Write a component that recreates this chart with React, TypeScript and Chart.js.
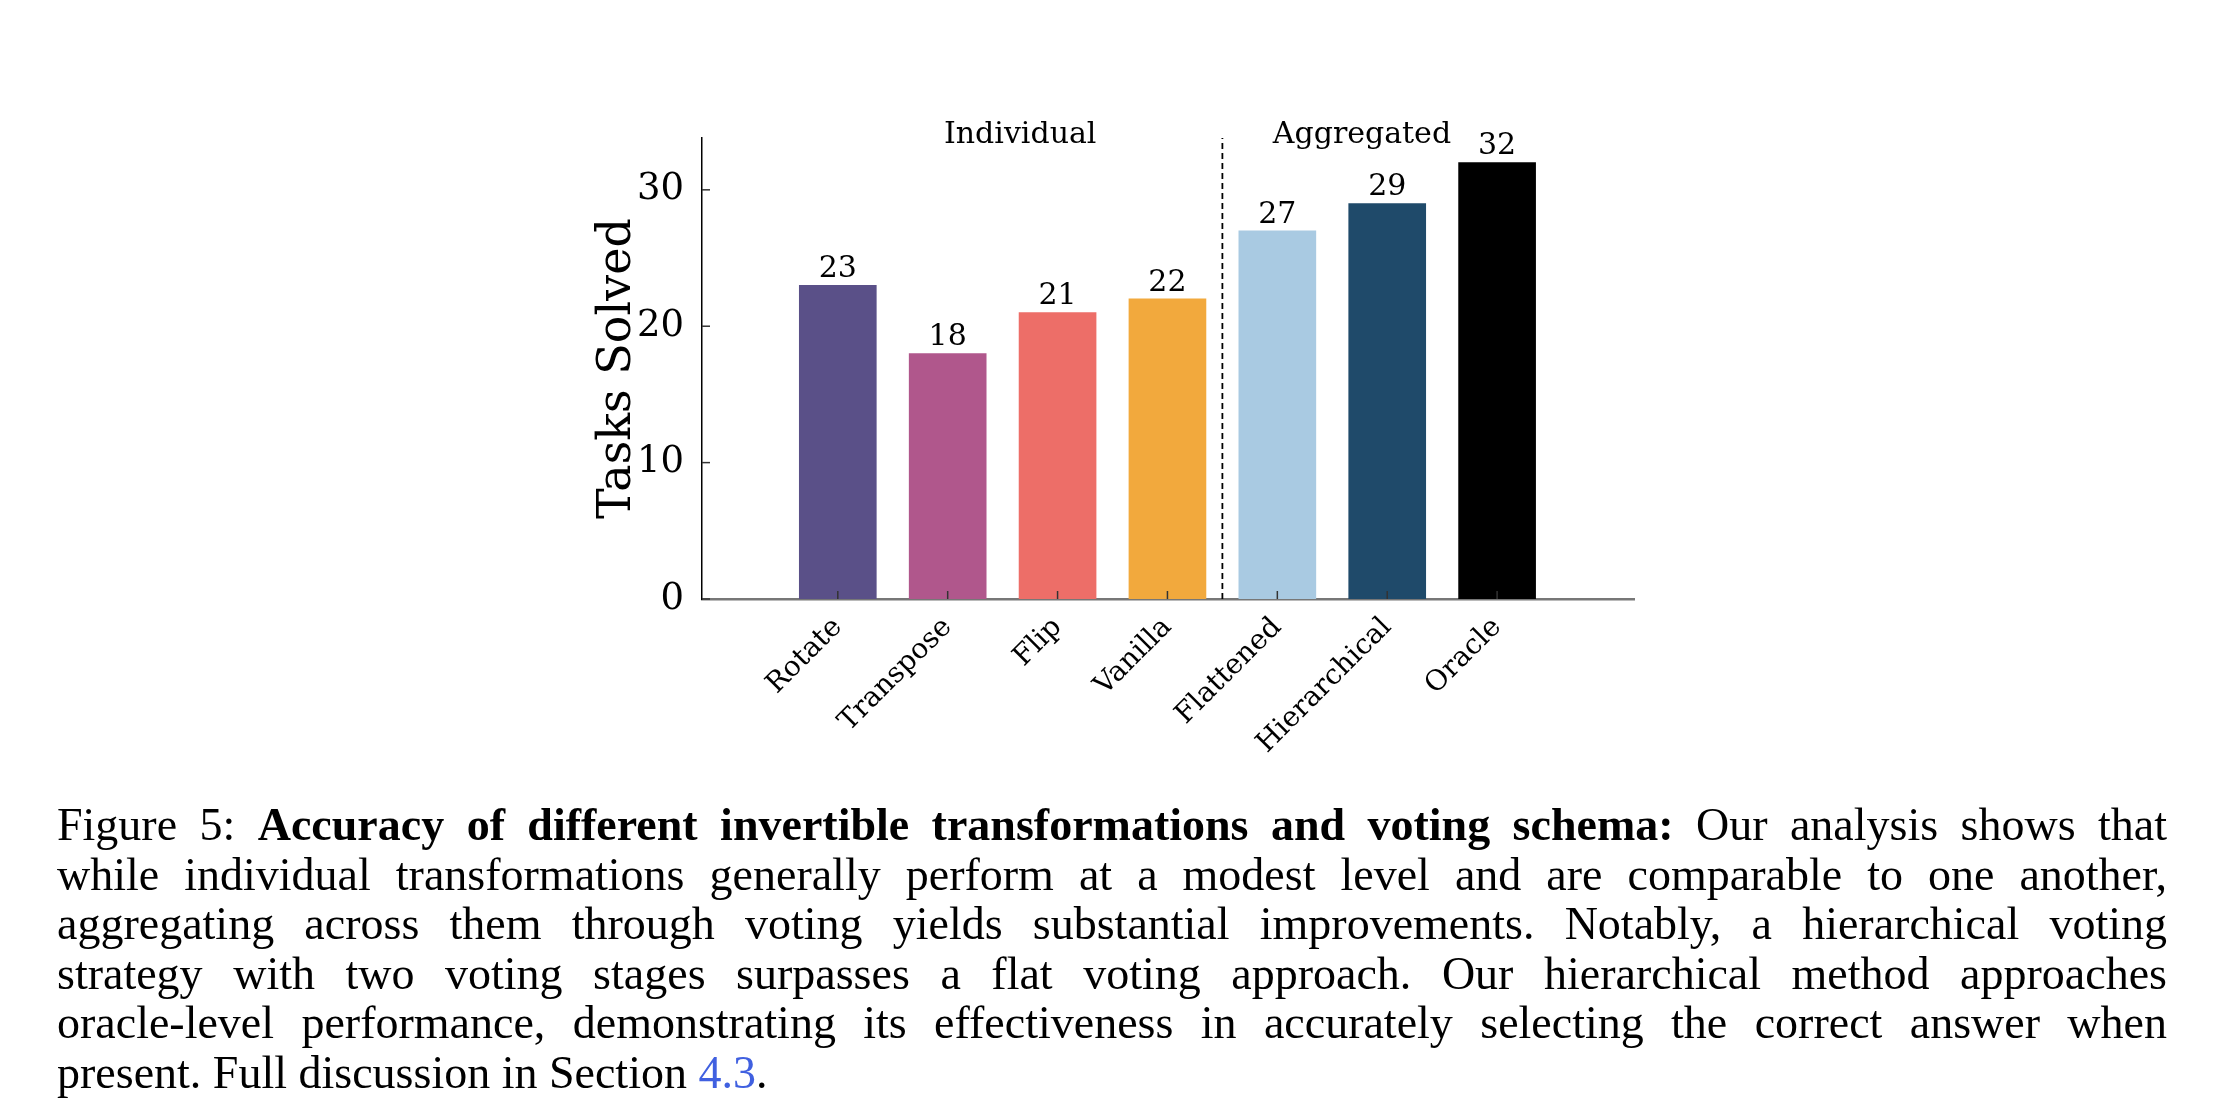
import { useEffect, useRef } from 'react'
import Chart from 'chart.js/auto'

const methods = ['Rotate', 'Transpose', 'Flip', 'Vanilla', 'Flattened', 'Hierarchical', 'Oracle']
const solved = [23, 18, 21, 22, 27, 29, 32]
const colors = ['#5A5088', '#B0578C', '#ED6E68', '#F2A93D', '#A9CAE2', '#1F4A6A', '#000000']
const yTicks = [0, 10, 20, 30]
const groups = [
  { label: 'Individual', at: 1.66 },
  { label: 'Aggregated', at: 4.77 },
]
const divider = 3.5

const serif = '"DejaVu Serif", serif'

const overlay = {
  id: 'overlay',
  afterDatasetsDraw(chart: any) {
    const { ctx, scales, chartArea } = chart
    const xs = scales.x
    const ys = scales.y
    ctx.save()
    // inward ticks
    ctx.strokeStyle = '#333'
    ctx.lineWidth = 1.5
    methods.forEach((_, i) => {
      const px = xs.getPixelForValue(i)
      ctx.beginPath()
      ctx.moveTo(px, chartArea.bottom)
      ctx.lineTo(px, chartArea.bottom - 8)
      ctx.stroke()
    })
    yTicks.forEach((v) => {
      const py = ys.getPixelForValue(v)
      ctx.beginPath()
      ctx.moveTo(chartArea.left, py)
      ctx.lineTo(chartArea.left + 8, py)
      ctx.stroke()
    })
    // divider
    const dx = xs.getPixelForValue(divider)
    ctx.setLineDash([6, 4])
    ctx.strokeStyle = '#000'
    ctx.lineWidth = 1.8
    ctx.beginPath()
    ctx.moveTo(dx, chartArea.bottom)
    ctx.lineTo(dx, chartArea.top)
    ctx.stroke()
    ctx.setLineDash([])
    // value labels
    ctx.fillStyle = '#000'
    ctx.textAlign = 'center'
    ctx.textBaseline = 'bottom'
    ctx.font = `30px ${serif}`
    solved.forEach((v, i) => {
      ctx.fillText(String(v), xs.getPixelForValue(i), ys.getPixelForValue(v) - 1)
    })
    ctx.textBaseline = 'middle'
    ctx.font = `30px ${serif}`
    groups.forEach((g) => {
      ctx.fillText(g.label, xs.getPixelForValue(g.at), chartArea.top - 3)
    })
    ctx.restore()
  },
}

export default function App() {
  const canvasRef = useRef<HTMLCanvasElement>(null)

  useEffect(() => {
    if (!canvasRef.current) return
    const chart = new Chart(canvasRef.current, {
      type: 'bar',
      data: {
        datasets: [
          {
            data: solved.map((y, i) => ({ x: i, y })),
            backgroundColor: colors,
            barThickness: 77,
          },
        ],
      },
      options: {
        animation: false,
        responsive: false,
        layout: { padding: { top: 138, left: 590, right: 580, bottom: 315 } },
        plugins: { legend: { display: false }, tooltip: { enabled: false } },
        scales: {
          x: {
            type: 'linear',
            min: -0.63,
            max: 6.64,
            afterBuildTicks: (s: any) => {
              s.ticks = methods.map((_, i) => ({ value: i }))
            },
            afterFit: (s: any) => {
              s.height = 200
            },
            ticks: {
              callback: (v: any) => methods[v] ?? '',
              minRotation: 45,
              maxRotation: 45,
              color: '#000',
              padding: 4,
              font: { family: serif, size: 28 },
            },
            grid: { display: false },
            border: { color: '#777', width: 2.5 },
          },
          y: {
            min: 0,
            max: 33.8,
            afterBuildTicks: (s: any) => {
              s.ticks = yTicks.map((value) => ({ value }))
            },
            afterFit: (s: any) => {
              s.width = 112
            },
            ticks: {
              color: '#000',
              padding: 10,
              font: { family: serif, size: 37 },
            },
            title: {
              display: true,
              text: 'Tasks Solved',
              color: '#000',
              padding: 0,
              font: { family: serif, size: 46 },
            },
            grid: { display: false },
            border: { color: '#000', width: 1.5 },
          },
        },
      },
      plugins: [overlay],
    } as any)
    return () => chart.destroy()
  }, [])

  const line = { textAlign: 'justify' as const, textAlignLast: 'justify' as const, whiteSpace: 'nowrap' as const }
  return (
    <div style={{ position: 'fixed', left: 0, top: 0, width: 2214, height: 1114, background: '#fff' }}>
      <canvas ref={canvasRef} width={2214} height={1114} style={{ position: 'absolute', left: 0, top: 0 }} />
      <div
        style={{
          position: 'absolute',
          left: 57,
          top: 800,
          width: 2110,
          fontFamily: '"Liberation Serif", serif',
          fontSize: 46,
          lineHeight: '49.6px',
          color: '#000',
        }}
      >
        <div style={line}>
          Figure 5: <b>Accuracy of different invertible transformations and voting schema:</b> Our analysis shows that
        </div>
        <div style={line}>
          while individual transformations generally perform at a modest level and are comparable to one another,
        </div>
        <div style={line}>
          aggregating across them through voting yields substantial improvements. Notably, a hierarchical voting
        </div>
        <div style={line}>
          strategy with two voting stages surpasses a flat voting approach. Our hierarchical method approaches
        </div>
        <div style={line}>
          oracle-level performance, demonstrating its effectiveness in accurately selecting the correct answer when
        </div>
        <div>
          present. Full discussion in Section <span style={{ color: '#4060E0' }}>4.3</span>.
        </div>
      </div>
    </div>
  )
}
